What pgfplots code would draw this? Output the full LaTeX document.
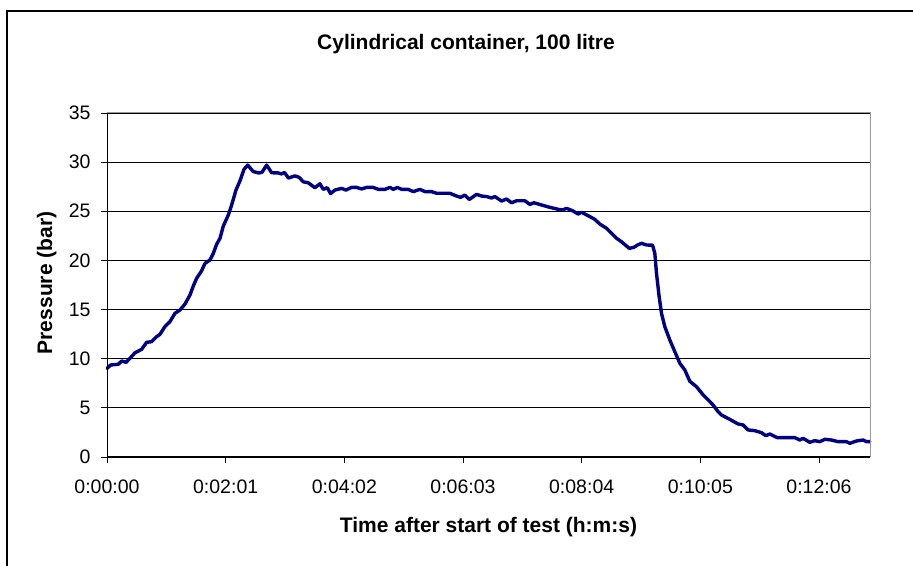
\documentclass[border=0pt]{standalone}
\usepackage{fontspec}
\setmainfont{Liberation Sans}
\usepackage{pgfplots}
\pgfplotsset{compat=1.18}
\definecolor{navyline}{RGB}{0,0,128}
\begin{document}
\begin{tikzpicture}
\useasboundingbox (0,0) rectangle (913bp,566bp);
\clip (0,0) rectangle (913bp,566bp);
\fill[white] (0,0) rectangle (913bp,566bp);
\draw[black, line width=1.5bp] (7bp,-10bp) -- (7bp,555bp) -- (930bp,555bp);
\node[anchor=base, font=\fontsize{21bp}{25bp}\selectfont\bfseries] at (466bp,516.7bp) {Cylindrical container, 100 litre};
\node[anchor=base, font=\fontsize{21bp}{25bp}\selectfont\bfseries] at (488.5bp,34bp) {Time after start of test (h:m:s)};
\node[anchor=base, rotate=90, font=\fontsize{21bp}{25bp}\selectfont\bfseries] at (52bp,283bp) {Pressure (bar)};
\begin{axis}[
  at={(107bp,109bp)}, anchor=south west,
  scale only axis, width=763bp, height=344bp,
  xmin=0, xmax=778, ymin=0, ymax=35,
  xtick={0,121,242,363,484,605,726},
  xticklabels={0:00:00,0:02:01,0:04:02,0:06:03,0:08:04,0:10:05,0:12:06},
  ytick={0,5,10,15,20,25,30,35},
  /pgf/number format/assume math mode=true,
  tick align=outside, xtick pos=left, ytick pos=left,
  major tick length=6bp,
  tick style={black, line width=0.9bp},
  ymajorgrids, grid style={black, line width=0.9bp},
  axis line style={gray!80, line width=1bp},
  ticklabel style={font=\fontsize{19.5bp}{23bp}\selectfont},
  xticklabel style={yshift=-13bp},
  yticklabel style={xshift=-7bp},
  clip=false,
]
\addplot[navyline, line width=3.4bp, line join=round, line cap=round] coordinates {
(0,9.0) (3.7,9.36) (11.5,9.43) (15,9.77) (19.4,9.63) (23.4,10.04) (28.5,10.6)
(35.3,10.95) (40.4,11.67) (45.5,11.73) (50.6,12.24) (54,12.48) (59,13.26)
(64.2,13.77) (69.3,14.62) (74.4,14.95) (79.5,15.56) (84.6,16.48) (88,17.4)
(91.4,18.18) (96.5,18.95) (99.9,19.7) (105,20.04) (108.4,20.72) (111.8,21.64)
(115.2,22.25) (118.6,23.5) (123.7,24.62) (127.1,25.64) (131.5,27.16) (135.6,28.1)
(139.7,29.27) (143.5,29.7) (149,29.05) (154.5,28.9) (158,28.96) (162.8,29.7)
(167.9,28.92) (174.6,28.9) (178,28.8) (181,28.95) (185,28.38) (191.6,28.6)
(196,28.45) (200.1,28.0) (205.2,27.9) (212,27.4) (217.1,27.8) (220.5,27.23)
(224.6,27.4) (228,26.8) (232.4,27.16) (239.2,27.33) (243.6,27.16) (249.4,27.43)
(254.5,27.43) (259.6,27.27) (264.7,27.43) (271.5,27.43) (276.6,27.23) (283.4,27.23)
(288.5,27.43) (291.9,27.23) (296,27.43) (300.4,27.23) (307.2,27.23) (312.3,27.0)
(319.1,27.23) (324.2,27.0) (331,27.0) (336.1,26.83) (349.6,26.83) (356.5,26.55)
(360.5,26.42) (364.9,26.65) (369.3,26.2) (376.8,26.72) (381.9,26.55) (387,26.5)
(392.1,26.35) (395.5,26.5) (402.3,26.04) (407.4,26.25) (412.5,25.87) (417.6,26.07)
(426.1,26.07) (431.2,25.7) (435.3,25.87) (443.1,25.64) (451.6,25.4) (460.1,25.2)
(464.5,25.13) (468.6,25.3) (475.3,25.03) (480.4,24.72) (483.9,24.9) (490.6,24.55)
(497.4,24.18) (502.5,23.7) (509.4,23.27) (514.5,22.76) (519.6,22.25) (524.6,21.9)
(532.5,21.23) (537.2,21.33) (541,21.57) (545,21.74) (550.1,21.57) (556.3,21.55)
(558.6,20.72) (560.3,18.69) (563,16.31) (565.4,14.62) (568.8,13.26) (573.9,11.9)
(579,10.71) (584.1,9.53) (589.2,8.85) (594.3,7.7) (601.1,7.15) (607.9,6.31)
(614.7,5.63) (618,5.29) (623.1,4.61) (626.6,4.27) (635,3.83) (643.5,3.36)
(648.6,3.26) (653.7,2.75) (660.5,2.68) (667.4,2.47) (671.8,2.17) (675.9,2.34)
(683.3,1.97) (692.9,1.97) (701.4,1.97) (706.4,1.73) (709.8,1.9) (716.6,1.49)
(721.7,1.66) (726.8,1.56) (731.9,1.8) (738.7,1.73) (745.5,1.56) (754,1.56)
(757.4,1.39) (764.2,1.63) (771,1.73) (774.4,1.56) (777.8,1.56)
};
\draw[gray!80, line width=1bp] (rel axis cs:0,1) -- (rel axis cs:1,1) -- (rel axis cs:1,0);
\draw[black, line width=1bp] (rel axis cs:0,1) -- (rel axis cs:0,0) -- (rel axis cs:1,0);
\end{axis}
\end{tikzpicture}
\end{document}
